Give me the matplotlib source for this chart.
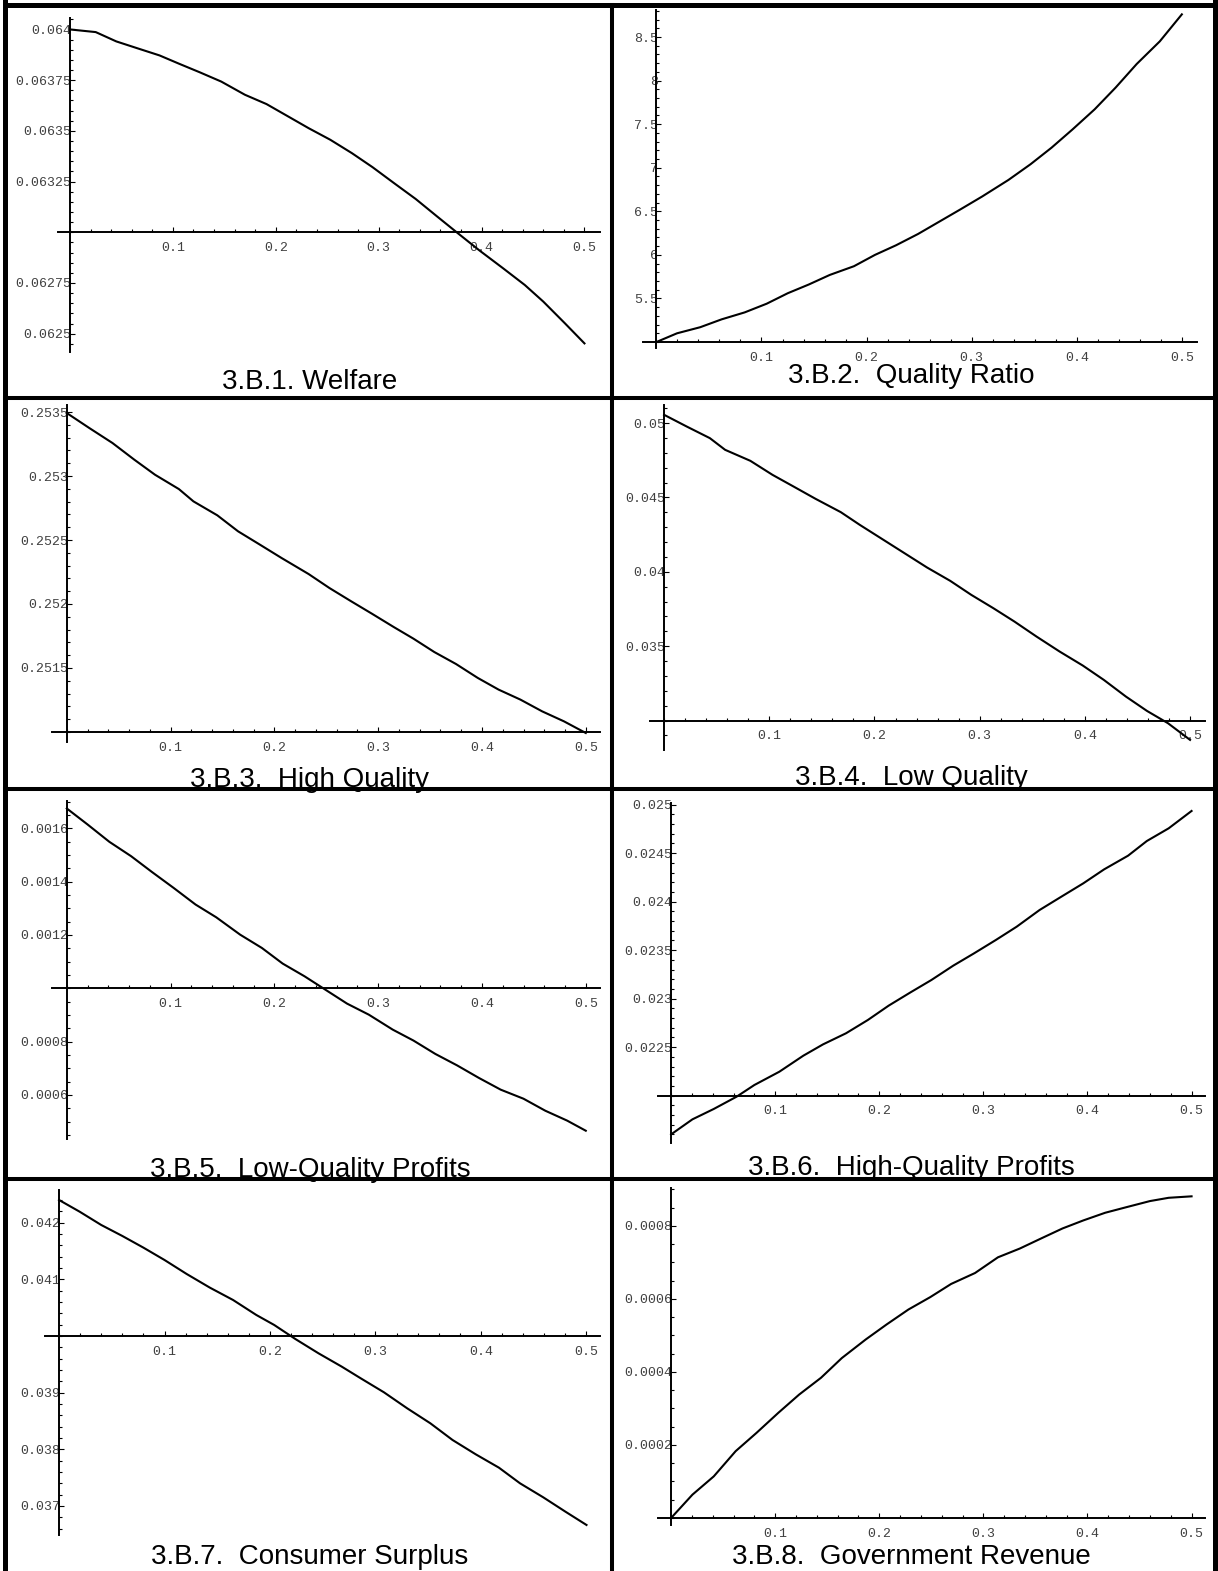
import matplotlib
matplotlib.use("Agg")
import matplotlib.pyplot as plt
from matplotlib.lines import Line2D
from matplotlib.ticker import MultipleLocator

W, H = 1218, 1571
DPI = 100

# -----------------------------
# Data
# -----------------------------
x_ticks = [0.1, 0.2, 0.3, 0.4, 0.5]
x_tick_labels = ["0.1", "0.2", "0.3", "0.4", "0.5"]

welfare_x = [0, 0.025, 0.045, 0.065, 0.087, 0.106, 0.126, 0.147, 0.17, 0.191, 0.211, 0.232, 0.253,
             0.274, 0.294, 0.315, 0.336, 0.357, 0.377, 0.398, 0.421, 0.442, 0.46, 0.481, 0.5]
welfare_y = [0.06400, 0.063987, 0.063941, 0.063908, 0.063872, 0.063831, 0.063789, 0.063743, 0.063678,
             0.063632, 0.063574, 0.063513, 0.063456, 0.06339, 0.063321, 0.063242, 0.063164, 0.063077,
             0.062995, 0.06291, 0.062822, 0.06274, 0.062658, 0.062551, 0.062452]
welfare_yticks = [0.0625, 0.06275, 0.06325, 0.0635, 0.06375, 0.064]
welfare_ylabels = ["0.0625", "0.06275", "0.06325", "0.0635", "0.06375", "0.064"]

ratio_x = [0, 0.0196, 0.0417, 0.062, 0.084, 0.105, 0.125, 0.145, 0.165, 0.188, 0.208, 0.228, 0.249,
           0.269, 0.289, 0.31, 0.335, 0.356, 0.376, 0.396, 0.417, 0.437, 0.457, 0.479, 0.5]
ratio_y = [5.0, 5.10, 5.17, 5.26, 5.34, 5.44, 5.56, 5.66, 5.77, 5.87, 6.0, 6.11, 6.24, 6.38, 6.52,
           6.67, 6.86, 7.04, 7.23, 7.44, 7.67, 7.92, 8.19, 8.45, 8.76]
ratio_yticks = [5.5, 6, 6.5, 7, 7.5, 8, 8.5]
ratio_ylabels = ["5.5", "6", "6.5", "7", "7.5", "8", "8.5"]

hq_x = [0, 0.0217, 0.044, 0.065, 0.085, 0.108, 0.122, 0.145, 0.165, 0.186, 0.207, 0.233, 0.253,
        0.274, 0.294, 0.315, 0.334, 0.354, 0.375, 0.396, 0.416, 0.437, 0.458, 0.479, 0.5]
hq_y = [0.253492, 0.253375, 0.253258, 0.253128, 0.25301, 0.252898, 0.252802, 0.252693, 0.252568,
        0.252464, 0.252359, 0.252234, 0.252125, 0.252021, 0.251924, 0.25182, 0.251729, 0.251625,
        0.251531, 0.251422, 0.251331, 0.251253, 0.251161, 0.251083, 0.250992]
hq_yticks = [0.2515, 0.252, 0.2525, 0.253, 0.2535]
hq_ylabels = ["0.2515", "0.252", "0.2525", "0.253", "0.2535"]

lq_x = [0, 0.0214, 0.0435, 0.058, 0.082, 0.103, 0.123, 0.144, 0.168, 0.186, 0.206, 0.226, 0.25,
        0.272, 0.292, 0.313, 0.333, 0.354, 0.376, 0.398, 0.418, 0.439, 0.459, 0.479, 0.5]
lq_y = [0.05056, 0.049776, 0.048991, 0.048206, 0.047466, 0.046525, 0.04574, 0.04491, 0.044013,
        0.043161, 0.042265, 0.041368, 0.040291, 0.039395, 0.038453, 0.037556, 0.036659, 0.03565,
        0.034641, 0.0337, 0.032735, 0.031614, 0.03065, 0.029821, 0.0287]
lq_yticks = [0.035, 0.04, 0.045, 0.05]
lq_ylabels = ["0.035", "0.04", "0.045", "0.05"]

lqp_x = [0, 0.02, 0.041, 0.062, 0.082, 0.103, 0.124, 0.144, 0.167, 0.188, 0.208, 0.229, 0.25,
         0.27, 0.291, 0.314, 0.334, 0.355, 0.376, 0.397, 0.418, 0.44, 0.461, 0.482, 0.5]
lqp_y = [0.001674, 0.001614, 0.001549, 0.001495, 0.001436, 0.001376, 0.001314, 0.001266, 0.001201,
         0.001151, 0.0010925, 0.001045, 0.0009925, 0.0009425, 0.000901, 0.000845, 0.000804,
         0.000754, 0.000711, 0.000664, 0.00062, 0.000586, 0.000541, 0.000504, 0.000466]
lqp_yticks = [0.0006, 0.0008, 0.0012, 0.0014, 0.0016]
lqp_ylabels = ["0.0006", "0.0008", "0.0012", "0.0014", "0.0016"]

hqp_x = [0, 0.0205, 0.041, 0.063, 0.08, 0.104, 0.127, 0.146, 0.168, 0.189, 0.209, 0.23, 0.25,
         0.271, 0.291, 0.312, 0.332, 0.354, 0.375, 0.396, 0.416, 0.439, 0.457, 0.478, 0.5]
hqp_y = [0.021601, 0.021756, 0.021863, 0.02199, 0.02211, 0.022247, 0.022412, 0.022529, 0.022643,
         0.02278, 0.022928, 0.023065, 0.023192, 0.02334, 0.023467, 0.023605, 0.023742, 0.023914,
         0.024052, 0.024189, 0.024333, 0.024474, 0.024625, 0.024756, 0.024935]
hqp_yticks = [0.0225, 0.023, 0.0235, 0.024, 0.0245, 0.025]
hqp_ylabels = ["0.0225", "0.023", "0.0235", "0.024", "0.0245", "0.025"]

cs_x = [0, 0.0195, 0.04, 0.06, 0.08, 0.1, 0.121, 0.143, 0.165, 0.187, 0.204, 0.224, 0.246,
        0.268, 0.286, 0.308, 0.33, 0.352, 0.373, 0.395, 0.417, 0.437, 0.459, 0.48, 0.5]
cs_y = [0.0424, 0.042194, 0.041959, 0.041765, 0.041559, 0.041341, 0.041094, 0.040853, 0.040635,
        0.040371, 0.040194, 0.039947, 0.039694, 0.039459, 0.039253, 0.039006, 0.038724, 0.038459,
        0.038165, 0.037912, 0.037676, 0.0374, 0.037153, 0.0369, 0.036665]
cs_yticks = [0.037, 0.038, 0.039, 0.041, 0.042]
cs_ylabels = ["0.037", "0.038", "0.039", "0.041", "0.042"]

rev_x = [0, 0.0205, 0.041, 0.062, 0.082, 0.103, 0.123, 0.144, 0.164, 0.187, 0.207, 0.228, 0.249,
         0.269, 0.292, 0.314, 0.335, 0.355, 0.376, 0.396, 0.417, 0.437, 0.46, 0.478, 0.5]
rev_y = [0.0, 0.0000639, 0.000114, 0.000183, 0.000233, 0.000288, 0.000338, 0.000384, 0.000438,
         0.000489, 0.00053, 0.000571, 0.000605, 0.000641, 0.000671, 0.000714, 0.000738, 0.000765,
         0.000793, 0.000815, 0.000836, 0.000851, 0.000868, 0.000877, 0.000881]
rev_yticks = [0.0002, 0.0004, 0.0006, 0.0008]
rev_ylabels = ["0.0002", "0.0004", "0.0006", "0.0008"]

# -----------------------------
# Layout (pixels in the 1218x1571 page)
# rect = left, top, right, bottom of the axes box
# -----------------------------
panels = [
    dict(title="3.B.1. Welfare", x=welfare_x, y=welfare_y, yt=welfare_yticks, yl=welfare_ylabels,
         ycross=0.063, yminor=0.00005, rect=(58, 18.3, 600, 351.7),
         xlim=(-0.01166, 0.5151), ylim=(0.062411, 0.064055), cap=(310, 389)),
    dict(title="3.B.2.  Quality Ratio", x=ratio_x, y=ratio_y, yt=ratio_yticks, yl=ratio_ylabels,
         ycross=5.0, yminor=0.1, rect=(643.2, 10, 1197.3, 348.3),
         xlim=(-0.01256, 0.5147), ylim=(4.928, 8.81), cap=(911, 383)),
    dict(title="3.B.3.  High Quality", x=hq_x, y=hq_y, yt=hq_yticks, yl=hq_ylabels,
         ycross=0.251, yminor=0.0001, rect=(52.4, 405, 600, 741.7),
         xlim=(-0.01387, 0.5137), ylim=(0.250924, 0.253555), cap=(310, 787)),
    dict(title="3.B.4.  Low Quality", x=lq_x, y=lq_y, yt=lq_yticks, yl=lq_ylabels,
         ycross=0.03, yminor=0.001, rect=(649.8, 405, 1205.1, 750),
         xlim=(-0.0136, 0.5143), ylim=(0.02802, 0.05122), cap=(911, 785)),
    dict(title="3.B.5.  Low-Quality Profits", x=lqp_x, y=lqp_y, yt=lqp_yticks, yl=lqp_ylabels,
         ycross=0.001, yminor=0.00005, rect=(52.4, 801, 600, 1139),
         xlim=(-0.01387, 0.5137), ylim=(0.000435, 0.001702), cap=(310, 1177)),
    dict(title="3.B.6.  High-Quality Profits", x=hqp_x, y=hqp_y, yt=hqp_yticks, yl=hqp_ylabels,
         ycross=0.022, yminor=0.0001, rect=(657.5, 803.3, 1205.1, 1143.3),
         xlim=(-0.01306, 0.513), ylim=(0.021509, 0.025014), cap=(911, 1175)),
    dict(title="3.B.7.  Consumer Surplus", x=cs_x, y=cs_y, yt=cs_yticks, yl=cs_ylabels,
         ycross=0.04, yminor=0.0002, rect=(44.7, 1190, 600, 1535),
         xlim=(-0.01356, 0.5128), ylim=(0.036488, 0.042576), cap=(310, 1564)),
    dict(title="3.B.8.  Government Revenue", x=rev_x, y=rev_y, yt=rev_yticks, yl=rev_ylabels,
         ycross=0.0, yminor=0.00005, rect=(657.5, 1188.3, 1205.1, 1525),
         xlim=(-0.01306, 0.513), ylim=(-0.0000192, 0.000903), cap=(911, 1564)),
]

TICK_FONT = dict(family="Liberation Mono", size=9.5)
CAPTION_FONT = dict(family="Liberation Sans", size=20)

fig = plt.figure(figsize=(W / DPI, H / DPI), dpi=DPI)
fig.patch.set_facecolor("white")

for p in panels:
    l, t, r, b = p["rect"]
    ax = fig.add_axes([l / W, 1 - b / H, (r - l) / W, (b - t) / H])
    ax.patch.set_visible(False)
    ax.plot(p["x"], p["y"], color="black", lw=1.5, clip_on=False, solid_joinstyle="round")
    ax.set_xlim(*p["xlim"])
    ax.set_ylim(*p["ylim"])

    ax.spines["top"].set_visible(False)
    ax.spines["right"].set_visible(False)
    ax.spines["left"].set_position(("data", 0))
    ax.spines["bottom"].set_position(("data", p["ycross"]))
    for s in ("left", "bottom"):
        ax.spines[s].set_linewidth(1.4)

    ax.set_xticks(x_ticks, x_tick_labels)
    ax.set_yticks(p["yt"], p["yl"])
    ax.xaxis.set_minor_locator(MultipleLocator(0.02))
    ax.yaxis.set_minor_locator(MultipleLocator(p["yminor"]))
    ax.tick_params(which="both", direction="in", width=0.8, color="black", labelcolor="#404040")
    ax.tick_params(which="major", length=3.6)
    ax.tick_params(which="minor", length=1.9)
    ax.tick_params(axis="x", pad=7)
    ax.tick_params(axis="y", pad=-1)
    for lab in ax.get_xticklabels() + ax.get_yticklabels():
        lab.set_fontfamily(TICK_FONT["family"])
        lab.set_fontsize(TICK_FONT["size"])

    cx, cy = p["cap"]
    fig.text(cx / W, 1 - cy / H, p["title"], ha="center", va="baseline",
             fontfamily=CAPTION_FONT["family"], fontsize=CAPTION_FONT["size"])

# -----------------------------
# Table borders
# -----------------------------
def border(x1, y1, x2, y2, lw):
    fig.add_artist(Line2D([x1 / W, x2 / W], [1 - y1 / H, 1 - y2 / H], color="black",
                          lw=lw, solid_capstyle="projecting", zorder=10))

border(5, 0, 5, H, 3.6)
border(1214.5, 0, 1214.5, H, 3.6)
border(5, 4.5, 1214.5, 4.5, 3.6)
border(612, 4.5, 612, H, 2.9)
for yb in (398, 788.5, 1179):
    border(5, yb, 1214.5, yb, 2.9)

fig.savefig("out.png", dpi=DPI)
